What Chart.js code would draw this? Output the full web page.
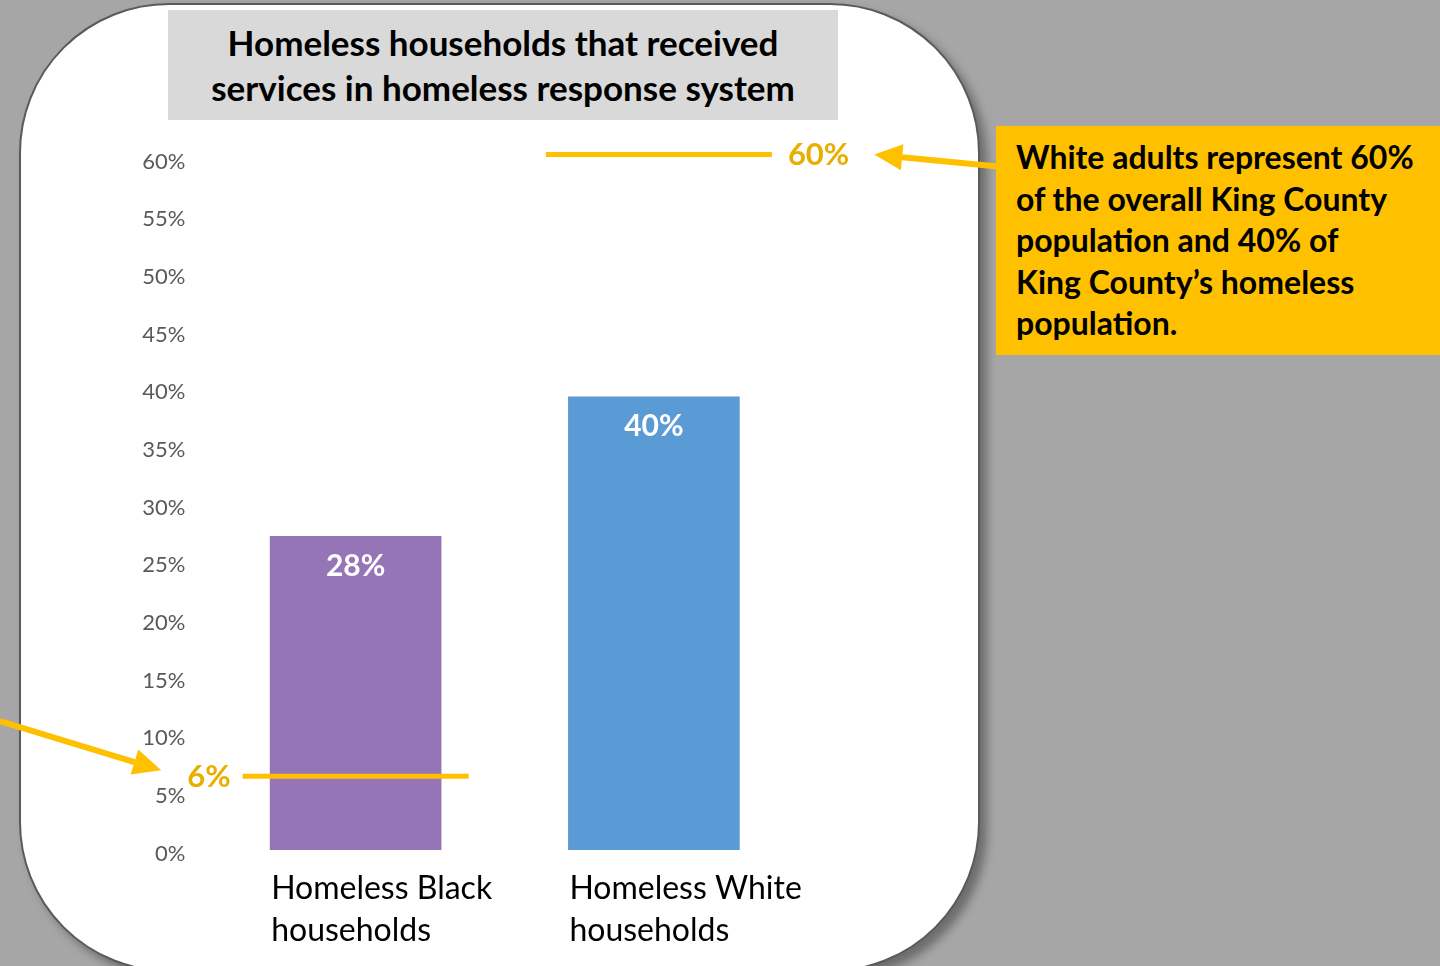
<!DOCTYPE html>
<html>
<head>
<meta charset="utf-8">
<script src="https://cdn.jsdelivr.net/npm/chart.js@4.4.1/dist/chart.umd.min.js"></script>
<style>
  html, body { margin:0; padding:0; }
  body { width:1440px; height:966px; background:#a6a6a6; position:relative; overflow:hidden; font-family:Lato, "Open Sans", sans-serif; }
  .card { position:absolute; left:19px; top:3px; width:957px; height:965px; background:#fff;
          border:2px solid #5a5a5a; border-radius:150px; box-shadow:7px 7px 10px rgba(0,0,0,0.35); }
  .ttl { position:absolute; left:168px; top:10px; width:670px; height:110px; background:#d9d9d9;
         display:flex; align-items:center; justify-content:center; text-align:center;
         font-weight:bold; font-size:35px; line-height:45px; color:#000; }
  .callout { position:absolute; left:996px; top:126px; width:444px; height:229px; background:#ffc000;
             box-sizing:border-box; padding:10px 0 0 20px; font-weight:bold; font-size:32px; line-height:41.5px; color:#000; }
  #chartWrap { position:absolute; left:0; top:0; width:1440px; height:966px; }
</style>
</head>
<body>
<div class="card"></div>
<div class="ttl">Homeless households that received<br>services in homeless response system</div>
<div class="callout">White adults represent 60%<br>of the overall King County<br>population and 40% of<br>King County’s homeless<br>population.</div>
<div id="chartWrap"><canvas id="chartBar1" width="1440" height="966"></canvas></div>
<script>
        // 데이터
        let chartLabels1  = [["Homeless Black", "households"], ["Homeless White", "households"]];
        let chartData1    = [27.2, 39.3];
        let valueLabels1  = ["28%", "40%"];
        let barColors1    = ["#9675b6", "#5b9bd5"];

        // 기준선 (6%, 60%)
        let refValues     = [6.4, 60.3];
        let refLabels     = ["6%", "60%"];
        let refCategory   = [0, 1];

        let yTicks        = [0, 5, 10, 15, 20, 25, 30, 35, 40, 45, 50, 55, 60];

        const GOLD      = "#ffc000";
        const GOLD_TXT  = "#e9ae00";
        const FONT      = "Lato, 'Open Sans', sans-serif";

        function drawArrow(ctx, x1, y1, x2, y2){
            let ang = Math.atan2(y2 - y1, x2 - x1);
            let headLen = 28, headW = 13;
            let bx = x2 - Math.cos(ang) * headLen;
            let by = y2 - Math.sin(ang) * headLen;
            ctx.save();
            ctx.strokeStyle = GOLD;
            ctx.fillStyle = GOLD;
            ctx.lineWidth = 6;
            ctx.beginPath();
            ctx.moveTo(x1, y1);
            ctx.lineTo(bx, by);
            ctx.stroke();
            ctx.beginPath();
            ctx.moveTo(x2, y2);
            ctx.lineTo(bx + Math.sin(ang) * headW, by - Math.cos(ang) * headW);
            ctx.lineTo(bx - Math.sin(ang) * headW, by + Math.cos(ang) * headW);
            ctx.closePath();
            ctx.fill();
            ctx.restore();
        }

        const extraDraw = {
            id: "extraDraw",
            afterDatasetsDraw(chart){
                const ctx = chart.ctx;
                const xs = chart.scales.x;
                const ys = chart.scales.y;
                const meta = chart.getDatasetMeta(0);

                ctx.save();
                // 막대 값 라벨
                ctx.font = "bold 30px " + FONT;
                ctx.fillStyle = "#fff";
                ctx.textAlign = "center";
                ctx.textBaseline = "middle";
                meta.data.forEach((bar, i) => {
                    ctx.fillText(valueLabels1[i], bar.x, bar.y + 30);
                });

                // 카테고리 라벨 (왼쪽 정렬)
                ctx.font = "32px " + FONT;
                ctx.fillStyle = "#000";
                ctx.textAlign = "left";
                meta.data.forEach((bar, i) => {
                    let left = bar.x - bar.width / 2 + 1;
                    chartLabels1[i].forEach((ln, j) => {
                        ctx.fillText(ln, left, ys.bottom + 39 + j * 42);
                    });
                });

                // 기준선 + 라벨
                let refPos = [];
                refValues.forEach((v, i) => {
                    let cx = xs.getPixelForValue(refCategory[i]) + (i == 1 ? 5 : 0);
                    let y = ys.getPixelForValue(v);
                    let x1 = cx - 113, x2 = cx + 113;
                    ctx.strokeStyle = GOLD;
                    ctx.lineWidth = 5;
                    ctx.beginPath();
                    ctx.moveTo(x1, y);
                    ctx.lineTo(x2, y);
                    ctx.stroke();

                    ctx.font = "bold 31px " + FONT;
                    ctx.fillStyle = GOLD_TXT;
                    if(i == 0){
                        ctx.textAlign = "right";
                        ctx.fillText(refLabels[i], x1 - 12, y + 1);
                        refPos.push({x: x1 - 12 - ctx.measureText(refLabels[i]).width, y: y});
                    }else{
                        ctx.textAlign = "left";
                        ctx.fillText(refLabels[i], x2 + 16, y);
                        refPos.push({x: x2 + 16 + ctx.measureText(refLabels[i]).width, y: y});
                    }
                });
                ctx.restore();

                // 화살표
                drawArrow(ctx, 998, refPos[1].y + 12, refPos[1].x + 25, refPos[1].y);
                drawArrow(ctx, 0, 721, refPos[0].x - 26, refPos[0].y - 6);
            }
        };

        function setChart1(){
            var chartArea1 = document.getElementById("chartBar1").getContext("2d");

            new Chart(chartArea1, {
                type : "bar",
                data : {
                    labels: chartLabels1,
                    datasets:[
                        {
                            label: "households",
                            data : chartData1,
                            backgroundColor: barColors1,
                            barThickness: 171
                        }
                    ]
                },
                options: {
                    responsive: false,
                    animation: false,
                    layout: { padding: { top: 158, left: 0, right: 637, bottom: 0 } },
                    plugins: {
                        legend: { display: false },
                        tooltip: { enabled: false }
                    },
                    scales: {
                        x: {
                            grid: { display: false, drawTicks: false },
                            border: { display: false },
                            ticks: { display: false },
                            afterFit: function(scale){ scale.height = 116; }
                        },
                        y: {
                            min: 0,
                            max: 60,
                            grid: { display: false, drawTicks: false },
                            border: { display: false },
                            afterBuildTicks: function(scale){
                                scale.ticks = yTicks.map(v => ({ value: v }));
                            },
                            afterFit: function(scale){ scale.width = 206.5; },
                            ticks: {
                                padding: 21,
                                color: "#595959",
                                font: { family: FONT, size: 22, lineHeight: "7px" },
                                // 빈 줄을 앞에 넣어서 라벨을 살짝 아래로 내림
                                callback: function(v){ return ["", v + "%"]; }
                            }
                        }
                    }
                },
                plugins: [extraDraw]
            });
        }

        setChart1();
</script>
</body>
</html>
